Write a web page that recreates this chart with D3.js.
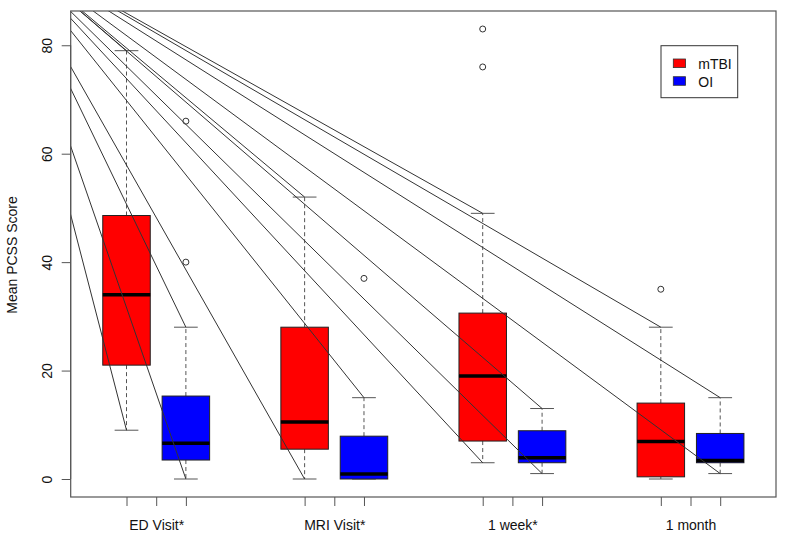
<!DOCTYPE html>
<html>
<head>
<meta charset="utf-8">
<script src="https://cdn.jsdelivr.net/npm/d3@7/dist/d3.min.js"></script>
<style>
  html, body { margin: 0; padding: 0; background: #fff; }
  svg { display: block; font-family: "Liberation Sans", Arial, sans-serif; }
</style>
</head>
<body>
<svg id="chart" width="800" height="548"></svg>
<script>
// ---------------- DATA ----------------
const categories = ["ED Visit*", "MRI Visit*", "1 week*", "1 month"];
const groups = ["mTBI", "OI"];
const groupColors = ["#FF0000", "#0000FF"];
// five-number summaries [lower whisker, Q1, median, Q3, upper whisker]
const mtbiStats = [
  [9, 21, 34, 48.6, 79],
  [0, 5.5, 10.5, 28, 52],
  [3, 7, 19, 30.6, 49],
  [0, 0.4, 6.9, 14, 28]
];
const oiStats = [
  [0, 3.5, 6.6, 15.3, 28],
  [0, 0, 0.9, 7.9, 15],
  [1, 3, 3.9, 8.9, 13],
  [1, 3, 3.4, 8.4, 15]
];
const mtbiOutliers = [[], [], [76, 83], [35]];
const oiOutliers = [[40, 66], [37], [], []];
const yTicks = [0, 20, 40, 60, 80];
// box positions (R "at" values) per category: [mTBI, OI]
const boxPositions = [[1, 2], [4, 5], [7, 8], [10, 11]];
// whisker ends that carry a straight connector line from the stray anchor point
// [category index, group index, "lo"/"hi"]
const connectorEnds = [
  [0, 0, "lo"], [0, 0, "hi"], [0, 1, "lo"], [0, 1, "hi"],
  [1, 0, "lo"], [1, 0, "hi"], [1, 1, "hi"],
  [2, 0, "lo"], [2, 0, "hi"], [2, 1, "lo"], [2, 1, "hi"],
  [3, 0, "hi"], [3, 1, "lo"], [3, 1, "hi"]
];
const connectorAnchor = [-1.13, 99];
const yLabel = "Mean PCSS Score";

// ---------------- LAYOUT ----------------
const svg = d3.select("#chart");
const plot = { left: 70.7, right: 776, top: 11, bottom: 497 };
const x = d3.scaleLinear().domain([0.06, 11.94]).range([plot.left, plot.right]);
const y = d3.scaleLinear().domain([-3.32, 86.32]).range([plot.bottom, plot.top]);
const boxHalf = 0.4, capHalf = 0.2;
const stats = [mtbiStats, oiStats];
const outliers = [mtbiOutliers, oiOutliers];

svg.append("defs").append("clipPath").attr("id", "clip")
  .append("rect").attr("x", plot.left).attr("y", plot.top)
  .attr("width", plot.right - plot.left).attr("height", plot.bottom - plot.top);

const g = svg.append("g");

// boxes
categories.forEach((cat, ci) => {
  groups.forEach((grp, gi) => {
    const s = stats[gi][ci];
    const p = boxPositions[ci][gi];
    const bg = g.append("g");
    // whiskers (dashed)
    if (s[0] < s[1]) {
      bg.append("line").attr("x1", x(p)).attr("x2", x(p))
        .attr("y1", y(s[1])).attr("y2", y(s[0]))
        .attr("stroke", "#555").attr("stroke-width", 1).attr("stroke-dasharray", "4,3");
    }
    if (s[4] > s[3]) {
      bg.append("line").attr("x1", x(p)).attr("x2", x(p))
        .attr("y1", y(s[3])).attr("y2", y(s[4]))
        .attr("stroke", "#555").attr("stroke-width", 1).attr("stroke-dasharray", "4,3");
    }
    // caps
    [s[0], s[4]].forEach(v => {
      bg.append("line").attr("x1", x(p - capHalf)).attr("x2", x(p + capHalf))
        .attr("y1", y(v)).attr("y2", y(v))
        .attr("stroke", "#555").attr("stroke-width", 1);
    });
    // box
    bg.append("rect")
      .attr("x", x(p - boxHalf)).attr("width", x(p + boxHalf) - x(p - boxHalf))
      .attr("y", y(s[3])).attr("height", y(s[1]) - y(s[3]))
      .attr("fill", groupColors[gi]).attr("stroke", "#222").attr("stroke-width", 1);
    // median
    bg.append("line").attr("x1", x(p - boxHalf)).attr("x2", x(p + boxHalf))
      .attr("y1", y(s[2])).attr("y2", y(s[2]))
      .attr("stroke", "#000").attr("stroke-width", 3.5);
    // outliers
    outliers[gi][ci].forEach(v => {
      bg.append("circle").attr("cx", x(p)).attr("cy", y(v)).attr("r", 3)
        .attr("fill", "none").attr("stroke", "#333").attr("stroke-width", 1);
    });
  });
});

// connector lines
const lineG = svg.append("g").attr("clip-path", "url(#clip)");
connectorEnds.forEach(([ci, gi, end]) => {
  const s = stats[gi][ci];
  const p = boxPositions[ci][gi];
  const v = end === "lo" ? s[0] : s[4];
  lineG.append("line")
    .attr("x1", x(connectorAnchor[0])).attr("y1", y(connectorAnchor[1]))
    .attr("x2", x(p)).attr("y2", y(v))
    .attr("stroke", "#333").attr("stroke-width", 1);
});

// frame
svg.append("rect").attr("x", plot.left).attr("y", plot.top)
  .attr("width", plot.right - plot.left).attr("height", plot.bottom - plot.top)
  .attr("fill", "none").attr("stroke", "#555").attr("stroke-width", 1.2);

// y axis
const yAxis = d3.axisLeft(y).tickValues(yTicks).tickSize(9).tickFormat(d3.format("d"));
const ya = svg.append("g").attr("transform", `translate(${plot.left},0)`).call(yAxis);
ya.select(".domain").attr("stroke", "#555").attr("d", `M0,${y(0)}V${y(80)}`);
ya.selectAll(".tick line").attr("stroke", "#555");
ya.selectAll(".tick text")
  .attr("font-size", 14).attr("fill", "#111")
  .attr("font-family", "Liberation Sans, Arial, sans-serif")
  .attr("text-anchor", "middle")
  .attr("dy", null)
  .attr("x", null)
  .attr("transform", d => `translate(-19,0) rotate(-90)`)
  .attr("y", 0);

// x axis
const xTickVals = [];
const xTickLabels = {};
boxPositions.forEach((pp, ci) => {
  const mid = (pp[0] + pp[1]) / 2;
  xTickVals.push(pp[0], mid, pp[1]);
  xTickLabels[mid] = categories[ci];
});
const xAxis = d3.axisBottom(x).tickValues(xTickVals).tickSize(9)
  .tickFormat(d => xTickLabels[d] || "");
const xa = svg.append("g").attr("transform", `translate(0,${plot.bottom})`).call(xAxis);
xa.select(".domain").remove();
xa.selectAll(".tick line").attr("stroke", "#555");
xa.selectAll(".tick text")
  .attr("font-size", 14).attr("fill", "#111")
  .attr("font-family", "Liberation Sans, Arial, sans-serif")
  .attr("dy", null).attr("y", 33);

// y label
svg.append("text")
  .attr("transform", `translate(17,${(plot.top + plot.bottom) / 2 + 1}) rotate(-90)`)
  .attr("text-anchor", "middle").attr("font-size", 14).attr("fill", "#111")
  .text(yLabel);

// legend
const lg = svg.append("g");
lg.append("rect").attr("x", 661).attr("y", 45.7).attr("width", 76.7).attr("height", 52)
  .attr("fill", "#fff").attr("stroke", "#333").attr("stroke-width", 1);
groups.forEach((grp, gi) => {
  const cy = 63.3 + gi * 17.7;
  lg.append("rect").attr("x", 673.3).attr("y", cy - 4.3).attr("width", 12.3).attr("height", 8.6)
    .attr("fill", groupColors[gi]).attr("stroke", "#333").attr("stroke-width", 0.8);
  lg.append("text").attr("x", 698.3).attr("y", cy + 5.5)
    .attr("font-size", 14).attr("fill", "#111").text(grp);
});
</script>
</body>
</html>
